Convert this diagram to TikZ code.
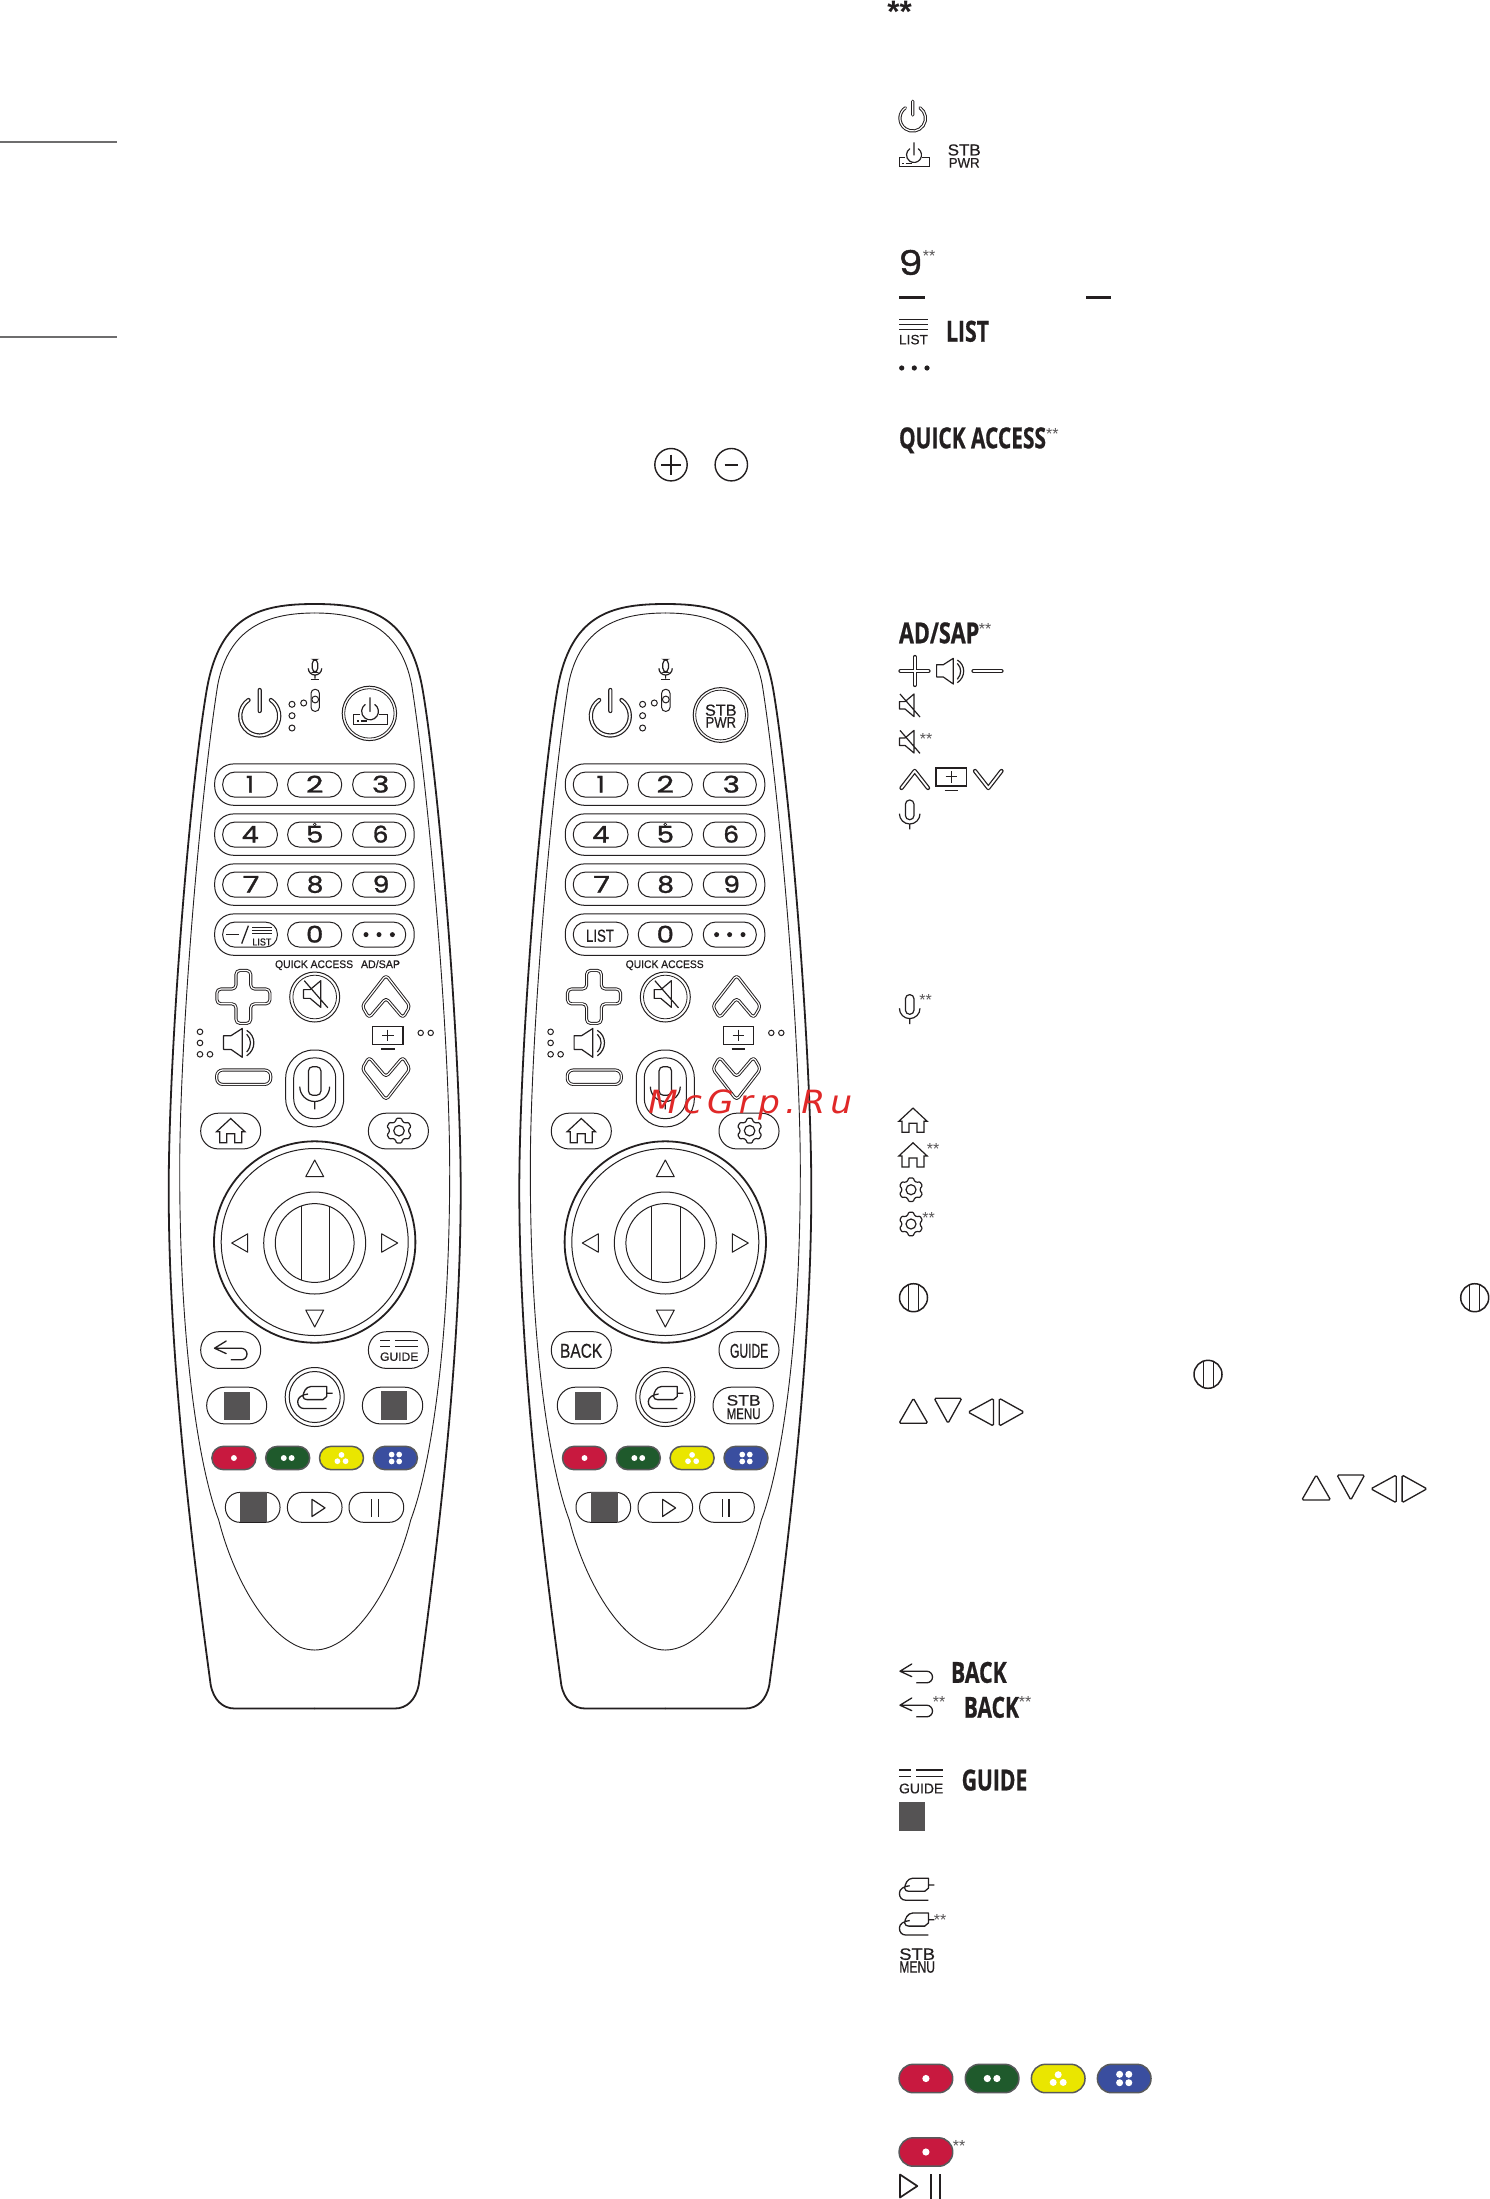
\documentclass[tikz,border=0pt]{standalone}
\usepackage{graphicx}
\usepackage{fontspec}
\setmainfont{Liberation Sans}
\newfontfamily\popf{Poppins}[FakeBold=1.2]
\newfontfamily\opf{Open Sans}[BoldFeatures={FakeBold=0.8}]
\newfontfamily\arf{Liberation Sans}[FakeBold=0.5]
\newfontfamily\wmf{DejaVu Sans}[LetterSpace=15]
\definecolor{ink}{HTML}{231F20}
\definecolor{gsq}{HTML}{555354}
\definecolor{cred}{HTML}{C8193F}
\definecolor{cgreen}{HTML}{1F5A2C}
\definecolor{cyel}{HTML}{EAE600}
\definecolor{cblue}{HTML}{3A4E9F}
\definecolor{cedge}{HTML}{58595B}
\newcommand\Lbl[6]{\node[anchor=base west,inner sep=0pt,outer sep=0pt,text=ink] (#1) at (#2,#3) {\resizebox{#4pt}{\height}{#5{}#6}};}
\newcommand\St[3]{\node[anchor=base,inner sep=0pt,outer sep=0pt,text=gsq] (#1) at (#2,{#3+9}) {\fontsize{16}{16}\selectfont **};}
\newcommand\Cnd{\fontsize{29}{29}\selectfont\opf\bfseries}
\newcommand\Dgf{\fontsize{23}{23}\selectfont\popf}
\newcommand\Ari[1]{\fontsize{#1}{#1}\selectfont}
\newcommand\ArB[1]{\fontsize{#1}{#1}\selectfont\arf}
\newcommand\CBtn[6]{%
\begin{scope}[shift={(#1,#2)},scale=#3]
\draw[line width=1.5pt,draw=cedge,fill=#4,rounded corners=#6pt] (-26.8,-14.2) rectangle (26.8,14.2);
\ifcase#5\or
\fill[white] (0,0) circle[radius=3.6];
\or
\fill[white] (-4.8,0) circle[radius=3.6] (4.8,0) circle[radius=3.6];
\or
\fill[white] (0,-3.8) circle[radius=3.5] (-5,3.9) circle[radius=3.5] (5,3.9) circle[radius=3.5];
\or
\fill[white] (-4.6,-4.2) circle[radius=3.5] (4.6,-4.2) circle[radius=3.5] (-4.6,4.2) circle[radius=3.5] (4.6,4.2) circle[radius=3.5];
\fi
\end{scope}}
\tikzset{
 every pic/.style={yscale=-1},
 ico/.style={line width=1.2pt,draw=ink},
 thn/.style={line width=1pt,draw=ink},
 pw/.style={draw=ink,line width=1.2pt,double,double distance=1.9pt,line cap=round,line join=round},
 dl/.style={draw=ink,line width=.95pt,double,double distance=1.2pt,line join=round},
 fatl/.style={draw=ink,line width=1.25pt,double,double distance=1.8pt,line cap=round,line join=round},
 led/.style={draw=ink,line width=1pt},
 tri/.style={draw=ink,line width=1pt,line join=round},
 tril/.style={draw=ink,line width=1.3pt,rounded corners=1.5pt},
 power/.pic={\draw[pw] (-55:19.5) arc[start angle=-55,end angle=235,radius=19.5] (0,-26)--(0,-5);},
 stbicon/.pic={
   \draw[ico,line cap=round] (-55:7.5) arc[start angle=-55,end angle=235,radius=7.5] (0,-12.3)--(0,0);
   \draw[ico] (-9,2.7)--(-14.7,2.7)--(-14.7,11.7)--(15.3,11.7)--(15.3,2.7)--(8.3,2.7);
   \draw[line width=1.3pt,draw=ink] (-11.7,8.7)--(-10,8.7) (-8.3,8.7)--(-2.3,8.7);},
 mute/.pic={\draw[ico,line join=round] (-10.3,-3.7)--(-4.7,-3.7)--(4.3,-11.3)--(4.3,11.3)--(-4.7,3.7)--(-10.3,3.7)--cycle (-9.7,-11.3)--(10.3,11.7);},
 speaker/.pic={\draw[ico,line join=round] (-14.7,-6.3)--(-8,-6.3)--(2,-12.7)--(2,13)--(-8,6)--(-14.7,6)--cycle;
   \draw[ico] (6,-11) .. controls (14.5,-6) and (14.5,6) .. (6,11.7) (6,-7.6) .. controls (10.5,-3) and (10.5,3) .. (6,8.3);},
 micicon/.pic={\draw[ico,rounded corners=4.2pt] (-4.3,-14.7) rectangle (4.3,5);
   \draw[ico] (-10.3,-1) arc[start angle=180,end angle=0,radius=10.3] (0,9.3)--(0,14.7);},
 home/.pic={\draw[ico] (-14.2,1)--(0,-12.2)--(14.2,1)--(11,1)--(11,12)--(4,12)--(4,3)--(-4,3)--(-4,12)--(-11,12)--(-11,1)--cycle;},
 gear/.pic={\draw[ico,rounded corners=.9pt] (8:9.3) \foreach \a in {30,90,...,330} {-- (\a-22:9.3) -- (\a-11:12) -- (\a+11:12) -- (\a+22:9.3)} -- cycle;
   \draw[ico] (0,0) circle[radius=5];},
 backicon/.pic={\draw[line width=1.3pt,draw=ink,line cap=round,line join=round] (-5,-9)--(-16.7,-1.8)--(-5,3.6) (-16.7,-1.8)--(10,-1.8) arc[start angle=-90,end angle=90,radius=5.8] --(0,9.8);},
 cable/.pic={\draw[line width=1.3pt,draw=ink,line join=round] (17.7,-4.3)--(11.7,-4.3) (11.7,-11)--(-4,-11) .. controls (-9,-11) and (-12,-5) .. (-12,-1) .. controls (-12,1) and (-10,2.1) .. (-8,2.1) -- (8,2.1) -- (11.7,-1) -- cycle
   (-7,-3.5) .. controls (-13,-3) and (-17.3,0) .. (-17.3,4) .. controls (-17.3,8) and (-15,11) .. (-11,11) -- (11.7,11);},
 tv/.pic={\draw[line width=1.4pt,draw=ink] (-15.2,-9) rectangle (15.2,9);
   \draw[line width=1pt,draw=ink] (-5.8,0)--(5.8,0) (0,-5.8)--(0,5.8);
   \draw[line width=1.5pt,draw=ink] (-6.8,13.6)--(6.8,13.6);},
 miniwheel/.pic={\draw[line width=1.5pt,draw=ink] (0,0) ellipse[x radius=14,y radius=14];
   \draw[line width=.9pt,draw=ink] (-5,-13)--(-5,13) (5,-13)--(5,13);},
 tris/.pic={
   \draw[tril] (0,25)--(14.4,25)--(28.8,25)--(14.4,0)--cycle;
   \draw[tril] (35.2,0)--(62.8,0)--(49,25)--cycle;
   \draw[tril] (94.4,0)--(94.4,27.7)--(69.1,13.8)--cycle;
   \draw[tril] (100.3,0)--(100.3,27.7)--(125.1,13.8)--cycle;}
}
\newcommand\RemoteBody{%
 \foreach \s in {1,-1}{
 \begin{scope}[xscale=\s]
 \draw[line width=1.8pt,draw=ink,line cap=round] (0,604) .. controls (-55,604) and (-95,615) .. (-108,690) .. controls (-125,790) and (-146,1050) .. (-146,1190) .. controls (-146,1350) and (-125,1530) .. (-104,1685) .. controls (-101,1700) and (-92,1708.5) .. (-80,1708.5) -- (0,1708.5);
 \draw[line width=.9pt,draw=ink,line cap=round] (0,613) .. controls (-48,613) and (-86,628) .. (-97,685) .. controls (-115,800) and (-135,1040) .. (-135,1170) .. controls (-135,1350) and (-115,1470) .. (-96,1520) .. controls (-78,1590) and (-38,1650) .. (0,1650);
 \end{scope}}
 \pic at (-55,716) {power};
 \draw[led] (-22.7,704.3) circle[radius=3] (-22.7,715.7) circle[radius=3] (-22.7,728) circle[radius=3] (-11,703) circle[radius=3];
 \draw[led,rounded corners=4pt] (-3.7,689.3) rectangle (4.7,711.4);
 \draw[led,fill=white] (.5,699.5) circle[radius=3.4];
 \pic[scale=.65] at (.3,669) {micicon};
 \draw[line width=1pt,draw=ink] (-4,679)--(4.6,679);
 % number rows
 \foreach \yy in {784.6,834.6,884.6,934.6}{
  \draw[thn,rounded corners=19pt] (-100,\yy-20.7) rectangle (99.5,\yy+20.7);
  \draw[thn,rounded corners=12pt] (-92,\yy-12.5) rectangle (-37.3,\yy+12.5);
  \draw[thn,rounded corners=12pt] (-27,\yy-12.5) rectangle (27,\yy+12.5);
  \draw[thn,rounded corners=12pt] (38,\yy-12.5) rectangle (91,\yy+12.5);
 }
 \Lbl{d1}{-68.7}{792.6}{8}{\Dgf}{1}
 \Lbl{d2}{-8.7}{792.6}{17.4}{\Dgf}{2}
 \Lbl{d3}{57.3}{792.6}{17.4}{\Dgf}{3}
 \Lbl{d4}{-73}{842.6}{17}{\Dgf}{4}
 \Lbl{d5}{-8.7}{842.6}{17.4}{\Dgf}{5}
 \Lbl{d6}{58}{842.6}{15.7}{\Dgf}{6}
 \Lbl{d7}{-72}{892.6}{16.7}{\Dgf}{7}
 \Lbl{d8}{-8}{892.6}{16.7}{\Dgf}{8}
 \Lbl{d9}{58}{892.6}{16.7}{\Dgf}{9}
 \Lbl{d0}{-8.7}{942.6}{17.4}{\Dgf}{0}
 \draw[line width=.6pt,draw=ink] (0,824.5) circle[radius=1.4];
 \fill[ink] (51.3,934.6) circle[radius=2.5] (64.3,934.6) circle[radius=2.5] (77.7,934.6) circle[radius=2.5];
 % quick access
 \Lbl{qa}{-39.6}{968}{78}{\ArB{11}}{QUICK ACCESS}
 % plus and minus
 \draw[dl,rounded corners=4pt] (-78.7,970.4)--(-64,970.4)--(-64,989)--(-44.8,989)--(-44.8,1003.8)--(-64,1003.8)--(-64,1023.4)--(-78.7,1023.4)--(-78.7,1003.8)--(-97.8,1003.8)--(-97.8,989)--(-78.7,989)--cycle;
 \draw[dl,rounded corners=6pt] (-98,1070)rectangle(-44,1084.4);
 \pic[scale=1.12] at (-74.7,1042.7) {speaker};
 \draw[led] (-114.7,1031.8) circle[radius=2.8] (-114.7,1042.9) circle[radius=2.8] (-114.7,1054.3) circle[radius=2.8] (-104.7,1054.3) circle[radius=2.8];
 % mute
 \draw[thn] (0,997) circle[radius=25];
 \draw[line width=.8pt,draw=ink] (0,997) circle[radius=21.8];
 \pic[scale=1.18] at (1,994) {mute};
 % chevrons
 \begin{scope}[shift={(71.3,0)}]
 \draw[dl,rounded corners=3.5pt] (0,975)--(24,1006)--(17,1018)--(0,998)--(-17,1018)--(-24,1006)--cycle;
 \draw[dl,rounded corners=3.5pt] (0,1100)--(24,1069)--(17,1057)--(0,1077)--(-17,1057)--(-24,1069)--cycle;
 \end{scope}
 \pic at (73.2,1035.3) {tv};
 \draw[led] (106,1032.9) circle[radius=2.7] (116,1032.9) circle[radius=2.7];
 % mic button
 \draw[thn,rounded corners=28pt] (-29,1050) rectangle (29,1126.8);
 \draw[thn,rounded corners=20pt] (-21,1057.9) rectangle (21,1118.6);
 \pic[scale=1.45] at (0,1088) {micicon};
 % home, settings
 \draw[thn,rounded corners=17.5pt] (-114,1113.2) rectangle (-54,1148.9);
 \draw[thn,rounded corners=17.5pt] (53.7,1113.2) rectangle (113.7,1148.9);
 \pic at (-84,1130.7) {home};
 \pic[scale=1.05] at (84.3,1130.7) {gear};
 % wheel
 \draw[line width=1.8pt,draw=ink] (0,1242) circle[radius=100.7];
 \draw[thn] (0,1242) circle[radius=93.5];
 \draw[thn] (0,1243) circle[radius=51];
 \draw[thn] (0,1243) circle[radius=39.4];
 \draw[thn] (-13.7,1206)--(-13.7,1280) (14.7,1206)--(14.7,1280);
 \draw[tri] (0,1160)--(9,1176.7)--(-9,1176.7)--cycle;
 \draw[tri] (0,1327)--(9,1310)--(-9,1310)--cycle;
 \draw[tri] (-83,1243)--(-67,1233.8)--(-67,1252.2)--cycle;
 \draw[tri] (83,1243)--(67,1233.8)--(67,1252.2)--cycle;
 % back, guide pills
 \draw[thn,rounded corners=18pt] (-114,1331.7) rectangle (-54,1368.4);
 \draw[thn,rounded corners=18pt] (53.7,1331.7) rectangle (113.7,1368.4);
 % input
 \draw[thn] (0,1397) circle[radius=29.5];
 \draw[thn] (0,1397) circle[radius=25.5];
 \pic at (.3,1397.5) {cable};
 % grey pill left
 \draw[thn,rounded corners=18pt] (-108,1387.2) rectangle (-48,1423.9);
 \fill[gsq] (-90.7,1392) rectangle (-64.5,1420);
 % colours
 \CBtn{-80.8}{1458}{.82}{cred}{1}{11.5}
 \CBtn{-27}{1458}{.82}{cgreen}{2}{11.5}
 \CBtn{26.8}{1458}{.82}{cyel}{3}{11.5}
 \CBtn{80.7}{1458}{.82}{cblue}{4}{11.5}
 % bottom row
 \draw[thn,rounded corners=14.5pt] (-89.3,1492.4) rectangle (-34.7,1522.3);
 \draw[thn,rounded corners=14.5pt] (-27.3,1492.4) rectangle (27.3,1522.3);
 \draw[thn,rounded corners=14.5pt] (34.3,1492.4) rectangle (89,1522.3);
 \fill[gsq] (-74.7,1492.4) rectangle (-47.7,1522.3);
 \draw[line width=1.2pt,draw=ink,line join=round] (-2.7,1499.3)--(10.3,1507.9)--(-2.7,1516.5)--cycle;
 \draw[line width=1.2pt,draw=ink] (57,1499.3)--(57,1516.5) (63.7,1499.3)--(63.7,1516.5);
}
\begin{document}
\begin{tikzpicture}[x=1pt,y=1pt,yscale=-1]
\useasboundingbox (0,0) rectangle (1490,2199);
\fill[white] (0,0) rectangle (1490,2199);
% left rules
\draw[line width=2pt,draw=gsq!85] (0,142)--(117,142) (0,336.7)--(117,336.7);
% circled plus and minus
\draw[line width=1.4pt,draw=ink] (671,464.7) circle[radius=16.2] (731.3,464.7) circle[radius=16.2];
\draw[line width=2pt,draw=ink] (661,464.7)--(681,464.7) (671,454.7)--(671,474.7) (724.6,464.7)--(738,464.7);
% remote A
\begin{scope}[shift={(314.7,0)},name prefix=a-]
\RemoteBody
\pic[scale=1.12] at (55.3,711.4) {stbicon};
\draw[thn] (54.7,713.4) circle[radius=27.2];
\draw[line width=.8pt,draw=ink] (54.7,713.4) circle[radius=24.7];
\Lbl{adsap}{46.3}{968}{39}{\ArB{11}}{AD/SAP}
% dash and list key
\draw[line width=1.6pt,draw=ink] (-88.7,934.6)--(-75.7,934.6);
\draw[line width=1.3pt,draw=ink] (-73,943.6)--(-66.3,925.7);
\draw[line width=1pt,draw=ink] (-62.3,927.5)--(-43,927.5) (-62.3,930.4)--(-43,930.4) (-62.3,933.2)--(-43,933.2);
\Lbl{lst}{-62.3}{945.4}{19}{\ArB{10}}{LIST}
\pic at (-83.5,1350) {backicon};
\draw[line width=1.2pt,draw=ink] (65.3,1340.5)--(75.3,1340.5) (65.3,1346.2)--(75.3,1346.2) (80.3,1340.5)--(103.7,1340.5) (80.3,1346.2)--(103.7,1346.2);
\Lbl{gd}{65.3}{1360.8}{38.4}{\ArB{12}}{GUIDE}
\draw[thn,rounded corners=18pt] (47.7,1387.2) rectangle (108,1423.9);
\fill[gsq] (66.3,1391) rectangle (92.3,1420);
\end{scope}
% remote B
\begin{scope}[shift={(665.3,0)},name prefix=b-]
\RemoteBody
\draw[thn] (55.3,715) circle[radius=27.4];
\draw[line width=.8pt,draw=ink] (55.3,715) circle[radius=24.9];
\Lbl{stb}{39.7}{715.7}{31.6}{\ArB{16}}{STB}
\Lbl{pwr}{40.3}{727.5}{30.4}{\ArB{15}}{PWR}
\Lbl{lst}{-79.3}{941.8}{28}{\ArB{17.5}}{LIST}
\Lbl{bk}{-105.3}{1357.7}{42.3}{\ArB{20}}{BACK}
\Lbl{gd}{64.7}{1357.7}{38.3}{\ArB{20}}{GUIDE}
\draw[thn,rounded corners=18pt] (47.7,1387.2) rectangle (108,1423.9);
\Lbl{stbm}{61.3}{1405.5}{34}{\ArB{15}}{STB}
\Lbl{menu}{61.3}{1419}{34}{\ArB{15.5}}{MENU}
\end{scope}
% legend column
\Lbl{topstars}{887.3}{22.7}{24.4}{\Ari{31}\bfseries}{**}
\pic[scale=.655,pw/.style={draw=ink,line width=1pt,double,double distance=1.2pt,line cap=round}] at (912.7,118.3) {power};
\pic at (914,155) {stbicon};
\Lbl{lstb}{947.7}{155.5}{33}{\ArB{16}}{STB}
\Lbl{lpwr}{948.7}{167.7}{31}{\ArB{14}}{PWR}
\Lbl{lnine}{898.5}{275}{24}{\fontsize{34}{34}\selectfont\popf}{9}
\St{s9}{929}{253}
\draw[line width=2.7pt,draw=ink] (899,297.3)--(925,297.3) (1086,297.3)--(1110.7,297.3);
\draw[line width=1.4pt,draw=ink] (899,319.3)--(928,319.3) (899,324.3)--(928,324.3) (899,329.3)--(928,329.3);
\Lbl{llist}{899}{344.3}{29}{\ArB{13.5}}{LIST}
\Lbl{blist}{946}{341.7}{43}{\Cnd}{LIST}
\fill[ink] (901.7,368) circle[radius=2.6] (914.3,368) circle[radius=2.6] (927,368) circle[radius=2.6];
\Lbl{bqa}{899}{448.3}{147}{\Cnd}{QUICK ACCESS}
\St{sqa}{1052.3}{430.7}
\Lbl{bad}{899}{643.3}{80.3}{\Cnd}{AD/SAP}
\St{sad}{985}{625}
% plus speaker minus
\draw[fatl] (900.5,671)--(928.5,671) (914.7,657)--(914.7,685);
\pic at (951.3,671) {speaker};
\draw[fatl] (973.5,671)--(1001.5,671);
\pic at (909.7,705.3) {mute};
\pic at (909.7,741.7) {mute};
\St{smu}{926}{735}
\draw[fatl] (901.5,788)--(914.7,771)--(928,788);
\pic at (951.3,776.9) {tv};
\draw[fatl] (975,771)--(988.3,788)--(1001.5,771);
\pic at (909.7,814.7) {micicon};
\pic at (909.7,1009.3) {micicon};
\St{smic}{925.7}{996}
\pic at (913,1120.3) {home};
\pic at (913,1155) {home};
\St{sho}{933.2}{1145}
\pic at (911,1189.7) {gear};
\pic at (911,1224) {gear};
\St{sge}{928.5}{1214.3}
\pic at (913.5,1297.7) {miniwheel};
\pic at (1474.7,1297.7) {miniwheel};
\pic at (1208,1374.3) {miniwheel};
\pic at (899,1398.3) {tris};
\pic at (1301.8,1475) {tris};
\pic at (916.7,1673) {backicon};
\Lbl{bbk}{951}{1682.8}{55.7}{\Cnd}{BACK}
\pic at (916.7,1707) {backicon};
\St{sbk}{939}{1698.8}
\Lbl{bbk2}{963.7}{1717.7}{55.3}{\Cnd}{BACK}
\St{sbk2}{1025}{1698.8}
\draw[line width=1.6pt,draw=ink] (899,1770)--(911,1770) (899,1776.5)--(911,1776.5) (916,1770)--(943.3,1770) (916,1776.5)--(943.3,1776.5);
\Lbl{lgd}{899}{1793.3}{44.3}{\ArB{14}}{GUIDE}
\Lbl{bgd}{961.7}{1790.4}{65.6}{\Cnd}{GUIDE}
\fill[gsq] (899,1802.2) rectangle (925,1830.7);
\pic at (916.7,1889.2) {cable};
\pic at (916.7,1924) {cable};
\St{sca}{940}{1916.3}
\Lbl{lstbm}{899.3}{1959.8}{35.7}{\ArB{16.5}}{STB}
\Lbl{lmenu}{899.3}{1972.6}{35.7}{\ArB{16.5}}{MENU}
\CBtn{925.9}{2078.5}{1}{cred}{1}{14}
\CBtn{992.1}{2078.5}{1}{cgreen}{2}{14}
\CBtn{1058.2}{2078.5}{1}{cyel}{3}{14}
\CBtn{1124.2}{2078.5}{1}{cblue}{4}{14}
\CBtn{925.9}{2152}{1}{cred}{1}{14}
\St{sre}{959}{2142}
\draw[line width=1.7pt,draw=ink,line join=round] (900,2174.5)--(917.3,2186)--(900,2197.5)--cycle;
\draw[line width=1.8pt,draw=ink] (931,2174)--(931,2199) (940,2174)--(940,2199);
% watermark
\node[anchor=base west,inner sep=0pt,text={rgb,255:red,224;green,40;blue,40}] (wm) at (648,1113) {\resizebox{204pt}{\height}{\fontsize{32}{32}\selectfont\wmf\itshape McGrp.Ru}};
\end{tikzpicture}
\end{document}
